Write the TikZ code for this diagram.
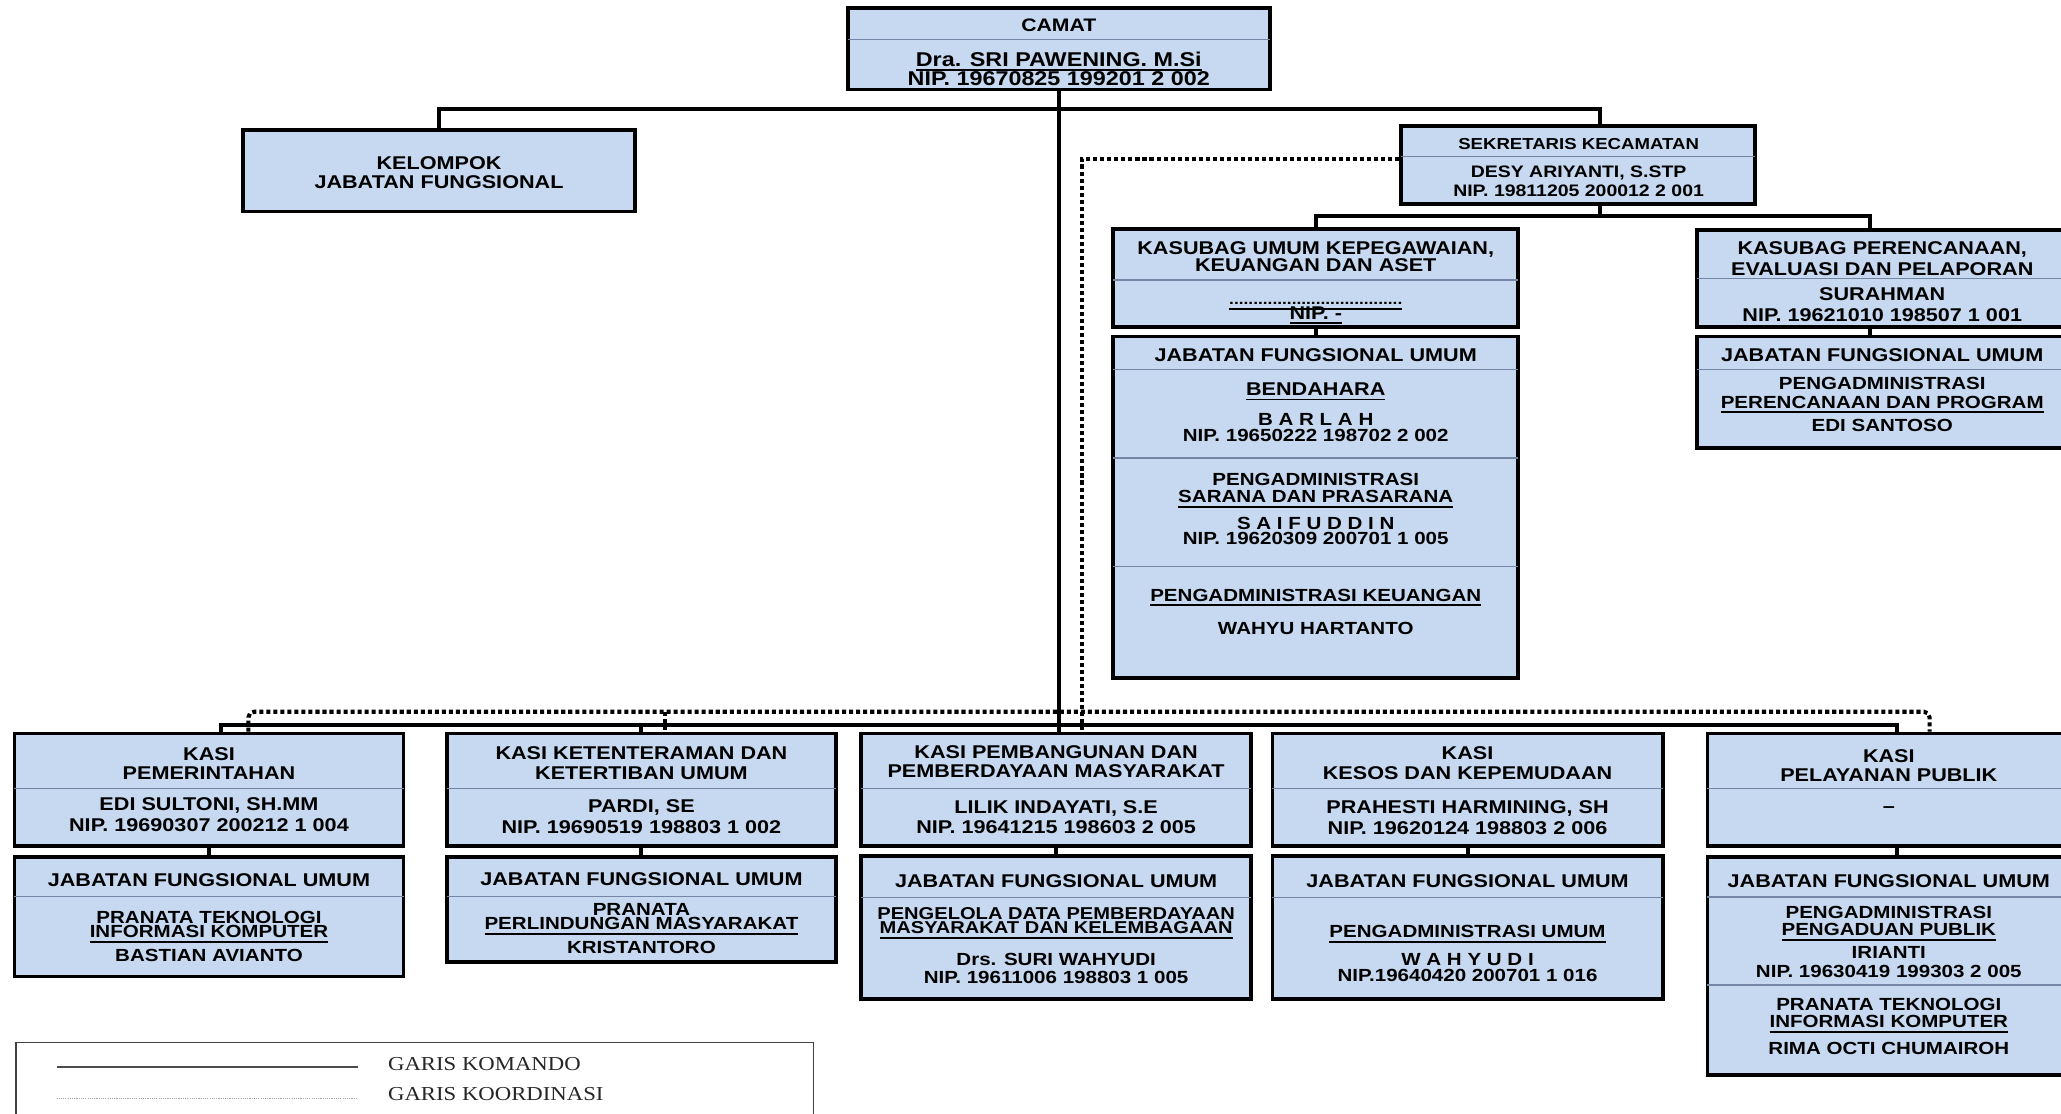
\documentclass[tikz,border=0pt]{standalone}
\usepackage{fontspec}
\setmainfont{Liberation Sans}[FakeStretch=1.17]
\newfontfamily\legendfont{Liberation Serif}[FakeStretch=1.15]
\usepackage{xcolor}
\usepackage{tikz}
\usetikzlibrary{fit}
\definecolor{boxblue}{RGB}{198,217,240}
\definecolor{splitline}{RGB}{115,135,165}
\newcommand\ulin[1]{\leavevmode\setbox0=\hbox{#1}\rlap{\smash{\rule[-2.6pt]{\wd0}{0.9pt}}}\box0}
\tikzset{
  unitbox/.style={draw, line width=2pt, fill=boxblue, inner sep=0pt},
  divline/.style={draw=splitline, line width=0.8pt},
  txt/.style={font=\fontsize{10}{#1}\selectfont\bfseries, align=center, inner sep=0pt},
  txt/.default=10.5,
  role/.style={font=\fontsize{9.5}{#1}\selectfont\bfseries, align=center, inner sep=0pt},
  role/.default=8.6,
  komando/.style={line width=2.2pt},
  koordinasi/.style={line width=2.2pt, dash pattern=on 2.2pt off 1.6pt},
  legendbox/.style={draw=black!75, line width=0.8pt, inner sep=0pt},
  legtxt/.style={font=\legendfont\fontsize{10.7}{12}\selectfont, text=black!85, anchor=west, inner sep=0pt},
}

\begin{document}
\begin{tikzpicture}[x=0.25mm, y=-0.25mm]
\useasboundingbox (0,0) rectangle (1568,847);
\clip (0,0) rectangle (1568,847);

% kotak
\node[unitbox, fit={(645,6) (966,68)}] (camat) {};
\node[unitbox, fit={(185,99) (483,161)}] (kelompok) {};
\node[unitbox, fit={(1066,96) (1335,155)}] (sekre) {};
\node[unitbox, fit={(847,174) (1155,248.6)}] (ksbUmum) {};
\node[unitbox, fit={(847,256) (1155,516)}] (jfuUmum) {};
\node[unitbox, fit={(1291,175) (1573,248.6)}] (ksbRen) {};
\node[unitbox, fit={(1291,256) (1573,340.6)}] (jfuRen) {};
\node[unitbox, fit={(11,558) (307,643.5)}] (kasiA) {};
\node[unitbox, fit={(11,652) (307,743)}] (jfuA) {};
\node[unitbox, fit={(340,558) (636,643.5)}] (kasiB) {};
\node[unitbox, fit={(340,652) (636,732)}] (jfuB) {};
\node[unitbox, fit={(655,558) (952,643.5)}] (kasiC) {};
\node[unitbox, fit={(655,651) (952,760)}] (jfuC) {};
\node[unitbox, fit={(968,558) (1265,643.5)}] (kasiD) {};
\node[unitbox, fit={(968,651) (1265,760)}] (jfuD) {};
\node[unitbox, fit={(1299,558) (1576,643.5)}] (kasiE) {};
\node[unitbox, fit={(1299,652) (1576,818)}] (jfuE) {};

\draw[divline] (645,30) -- (966,30);
\draw[divline] (1066,119) -- (1335,119);
\draw[divline] (847,213) -- (1155,213);
\draw[divline] (847,281) -- (1155,281);
\draw[divline] (847,348.6) -- (1155,348.6);
\draw[divline] (847,431) -- (1155,431);
\draw[divline] (1291,212) -- (1573,212);
\draw[divline] (1291,281) -- (1573,281);
\draw[divline] (11,600) -- (307,600);
\draw[divline] (11,682) -- (307,682);
\draw[divline] (340,600) -- (636,600);
\draw[divline] (340,682) -- (636,682);
\draw[divline] (655,600) -- (952,600);
\draw[divline] (655,683) -- (952,683);
\draw[divline] (968,600) -- (1265,600);
\draw[divline] (968,683) -- (1265,683);
\draw[divline] (1299,600) -- (1576,600);
\draw[divline] (1299,682.6) -- (1576,682.6);
\draw[divline] (1299,749.5) -- (1576,749.5);

% teks
\node[txt, font=\fontsize{9.8}{10}\selectfont\bfseries] (camatT) at (805.5,19.5) {CAMAT};
\node[txt, font=\fontsize{10.8}{10.4}\selectfont\bfseries] (camatN) at (805.5,52.3) {\ulin{Dra. SRI PAWENING. M.Si}\\NIP. 19670825 199201 2 002};
\node[txt=10.6] (kelompokT) at (334,131.5) {KELOMPOK\\JABATAN FUNGSIONAL};
\node[txt, font=\fontsize{8.6}{10}\selectfont\bfseries] (sekreT) at (1201,109.5) {SEKRETARIS KECAMATAN};
\node[txt, font=\fontsize{9}{10.4}\selectfont\bfseries] (sekreN) at (1201,137.7) {DESY ARIYANTI, S.STP\\NIP. 19811205 200012 2 001};

\node[txt=8.9] (ksbUmumT) at (1001,195.3) {KASUBAG UMUM KEPEGAWAIAN,\\KEUANGAN DAN ASET};
\node[txt=7.8] (ksbUmumN) at (1001,232.5) {\vphantom{N}\ulin{{\fontsize{8}{8}\selectfont ....................................}}\\\ulin{NIP. -}};
\node[txt] (jfuUmumH) at (1001,270) {JABATAN FUNGSIONAL UMUM};
\node[txt] (jfuUmumB) at (1001,296) {\ulin{BENDAHARA}};
\node[role=8.6] (jfuUmumBn) at (1001,325.6) {B A R L A H\\NIP. 19650222 198702 2 002};
\node[role=9.5] (jfuUmumS) at (1001,371.3) {PENGADMINISTRASI\\\ulin{SARANA DAN PRASARANA}};
\node[role=7.9] (jfuUmumSn) at (1001,404) {S A I F U D D I N\\NIP. 19620309 200701 1 005};
\node[role] (jfuUmumK) at (1001,452.7) {\ulin{PENGADMINISTRASI KEUANGAN}};
\node[role] (jfuUmumKn) at (1001,478) {WAHYU HARTANTO};

\node[txt=11.2] (ksbRenT) at (1432,197) {KASUBAG PERENCANAAN,\\EVALUASI DAN PELAPORAN};
\node[txt=11.3] (ksbRenN) at (1432,231.7) {SURAHMAN\\NIP. 19621010 198507 1 001};
\node[txt] (jfuRenH) at (1432,270) {JABATAN FUNGSIONAL UMUM};
\node[role=9.9] (jfuRenR) at (1432,299) {PENGADMINISTRASI\\\ulin{PERENCANAAN DAN PROGRAM}};
\node[role] (jfuRenN) at (1432,324) {EDI SANTOSO};

\node[txt=10.3] (kasiAT) at (159,580.8) {KASI\\PEMERINTAHAN};
\node[txt=11.3] (kasiAN) at (159,620) {EDI SULTONI, SH.MM\\NIP. 19690307 200212 1 004};
\node[txt] (jfuAH) at (159,669.5) {JABATAN FUNGSIONAL UMUM};
\node[role=7.8] (jfuAR) at (159,703.5) {PRANATA TEKNOLOGI\\\ulin{INFORMASI KOMPUTER}};
\node[role] (jfuAN) at (159,727) {BASTIAN AVIANTO};

\node[txt=10.6] (kasiBT) at (488,580.5) {KASI KETENTERAMAN DAN\\KETERTIBAN UMUM};
\node[txt=11.3] (kasiBN) at (488,621) {PARDI, SE\\NIP. 19690519 198803 1 002};
\node[txt] (jfuBH) at (488,669) {JABATAN FUNGSIONAL UMUM};
\node[role=7.8] (jfuBR) at (488,697.5) {PRANATA\\\ulin{PERLINDUNGAN MASYARAKAT}};
\node[role] (jfuBN) at (488,721) {KRISTANTORO};

\node[txt=10.6] (kasiCT) at (803.5,579.5) {KASI PEMBANGUNAN DAN\\PEMBERDAYAAN MASYARAKAT};
\node[txt=10.6] (kasiCN) at (803.5,621.5) {LILIK INDAYATI, S.E\\NIP. 19641215 198603 2 005};
\node[txt] (jfuCH) at (803.5,670) {JABATAN FUNGSIONAL UMUM};
\node[role, font=\fontsize{9.3}{7.8}\selectfont\bfseries] (jfuCR) at (803.5,700.5) {PENGELOLA DATA PEMBERDAYAAN\\\ulin{MASYARAKAT DAN KELEMBAGAAN}};
\node[role=9.9] (jfuCN) at (803.5,737) {Drs. SURI WAHYUDI\\NIP. 19611006 198803 1 005};

\node[txt=10.6] (kasiDT) at (1116.5,580.5) {KASI\\KESOS DAN KEPEMUDAAN};
\node[txt=11.3] (kasiDN) at (1116.5,622) {PRAHESTI HARMINING, SH\\NIP. 19620124 198803 2 006};
\node[txt] (jfuDH) at (1116.5,670) {JABATAN FUNGSIONAL UMUM};
\node[role] (jfuDR) at (1116.5,709) {\ulin{PENGADMINISTRASI UMUM}};
\node[role=8.9] (jfuDN) at (1116.5,736.2) {W A H Y U D I\\NIP.19640420 200701 1 016};

\node[txt=10.6] (kasiET) at (1437,582.5) {KASI\\PELAYANAN PUBLIK};
\node[txt] (kasiEN) at (1437,616) {--};
\node[txt] (jfuEH) at (1437,670) {JABATAN FUNGSIONAL UMUM};
\node[role=9.6] (jfuER) at (1437,700.7) {PENGADMINISTRASI\\\ulin{PENGADUAN PUBLIK}};
\node[role=10.3] (jfuEN) at (1437,732.2) {IRIANTI\\NIP. 19630419 199303 2 005};
\node[role=9.6] (jfuER2) at (1437,770.7) {PRANATA TEKNOLOGI\\\ulin{INFORMASI KOMPUTER}};
\node[role] (jfuEN2) at (1437,798) {RIMA OCTI CHUMAIROH};

% garis komando
\coordinate (topR) at (1217,83);
\coordinate (sekreBus) at (1217,164);
\coordinate (renDrop) at (1423,175);
\coordinate (kmdA) at (168,551.5);
\coordinate (kmdE) at (1443,551.5);
\draw[komando] (kelompok.north) |- (topR) -- (sekre.north -| topR);
\draw[komando] (camat.south) -- (camat.south |- kasiC.north);
\draw[komando] (sekre.south -| sekreBus) -- (sekreBus);
\draw[komando] (ksbUmum.north) |- (sekreBus) -| (ksbRen.north -| renDrop);
\draw[komando] (ksbUmum.south) -- (jfuUmum.north);
\draw[komando] (ksbRen.south -| renDrop) -- (jfuRen.north -| renDrop);
\draw[komando] (kasiA.north -| kmdA) -- (kmdA) -- (kmdE) -- (kasiE.north -| kmdE);
\draw[komando] (kasiB.north) -- (kasiB.north |- kmdA);
\draw[komando] (kasiA.south) -- (jfuA.north);
\draw[komando] (kasiB.south) -- (jfuB.north);
\draw[komando] (kasiC.south) -- (jfuC.north);
\draw[komando] (kasiD.south) -- (jfuD.north);
\draw[komando] (kasiE.south -| kmdE) -- (jfuE.north -| kmdE);

% garis koordinasi
\coordinate (krdSekre) at (823,121);
\coordinate (krdA) at (189,541.5);
\coordinate (krdB) at (506,541.5);
\coordinate (krdE) at (1468,541.5);
\draw[koordinasi] (sekre.west |- krdSekre) -- (krdSekre) -- (kasiC.north -| krdSekre);
\draw[koordinasi, rounded corners=3pt] (kasiA.north -| krdA) -- (krdA) -- (krdE) -- (kasiE.north -| krdE);
\draw[koordinasi] (krdB) -- (kasiB.north -| krdB);

% keterangan
\node[legendbox, fit={(12,793) (619,870)}] (legend) {};
\draw[black!70, line width=1pt] (43,811.6) -- (272,811.6);
\draw[black!35, line width=0.6pt, dash pattern=on 0.6pt off 0.6pt] (43,836) -- (272,836);
\node[legtxt] (lgKomando) at (295,809.6) {GARIS KOMANDO};
\node[legtxt] (lgKoord) at (295,832) {GARIS KOORDINASI};
\end{tikzpicture}
\end{document}
